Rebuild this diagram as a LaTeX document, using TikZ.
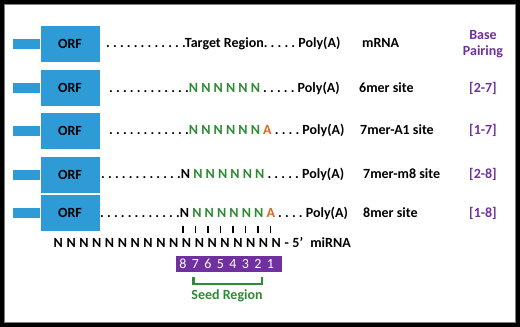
\documentclass[tikz,border=0pt]{standalone}
\usepackage{fontspec}
\setmainfont{Carlito}
\frenchspacing
\definecolor{orfblue}{HTML}{2E9AD6}
\definecolor{seedgreen}{HTML}{2E8B34}
\definecolor{adorange}{HTML}{E2661A}
\definecolor{mipurple}{HTML}{7030A0}
\newcommand{\grn}[1]{\textcolor{seedgreen}{#1}}
\newcommand{\orng}[1]{\textcolor{adorange}{#1}}
\tikzset{
  txt/.style={inner sep=0pt, font=\fontsize{14}{16}\selectfont\bfseries},
  orf/.style={txt, fill=orfblue, minimum width=59pt, minimum height=36pt},
  seq/.style={txt, anchor=west},
  pair/.style={txt, text=mipurple, align=center},
  bar/.style={line width=1.1pt},
}
\begin{document}
\begin{tikzpicture}[x=1pt,y=-1pt]
\useasboundingbox (0,0) rectangle (520,327);
\fill[white] (0,0) rectangle (520,327);
\draw[line width=4pt] (2,2) rectangle (518,325);
\draw[gray, line width=0.8pt] (4.5,4.5) rectangle (515.5,322.5);
\foreach \i/\y in {1/44,2/88,3/131,4/175,5/213} {
  \node[orf] (orf\i) at (70,\y) {ORF};
  \fill[orfblue] (orf\i.west) ++(0,-5) rectangle ++(-27,10);
}
\node[seq] (r1) at (106,43) {. . . . . . . . . . . .Target Region. . . . . Poly(A)};
\node[seq] (r2) at (109,88) {. . . . . . . . . . . .\grn{N N N N N N} . . . . . Poly(A)};
\node[seq] (r3) at (109,130) {. . . . . . . . . . . .\grn{N N N N N N} \orng{A} . . . . Poly(A)};
\node[seq] (r4) at (101,174) {. . . . . . . . . . . .N \grn{N N N N N N} . . . . . Poly(A)};
\node[seq] (r5) at (100,213) {. . . . . . . . . . . .N \grn{N N N N N N} \orng{A} . . . . Poly(A)};
\node[seq] (l1) at (362,43) {mRNA};
\node[seq] (l2) at (359,88) {6mer site};
\node[seq] (l3) at (360,130) {7mer-A1 site};
\node[seq] (l4) at (363,174) {7mer-m8 site};
\node[seq] (l5) at (363,213) {8mer site};
\node[pair] (p0) at (483,44) {Base\\Pairing};
\node[pair] (p2) at (483,88) {[2-7]};
\node[pair] (p3) at (483,130) {[1-7]};
\node[pair] (p4) at (483,174) {[2-8]};
\node[pair] (p5) at (483,213) {[1-8]};
\foreach \k in {0,...,7}
  \draw[bar] (183+12.5*\k,226) -- ++(0,6.5);
\node[seq] (mir) at (53.5,242) {\spaceskip=3.6pt N N N N N N N N N N N N N N N N N N - 5’\ \ miRNA};
\node[fill=mipurple, minimum width=106pt, minimum height=16pt, inner sep=0pt] (seedbox) at (229,264) {};
\foreach \d [count=\k from 0] in {8,7,6,5,4,3,2,1}
  \node[inner sep=0pt, text=white, font=\fontsize{14}{16}\selectfont] at (183+12.5*\k,264) {\d};
\draw[seedgreen, line width=2.6pt] (193.5,277) -- (193.5,284) -- (262,284) -- (262,277);
\node[txt, text=seedgreen] (seed) at (227,296) {Seed Region};
\end{tikzpicture}
\end{document}
